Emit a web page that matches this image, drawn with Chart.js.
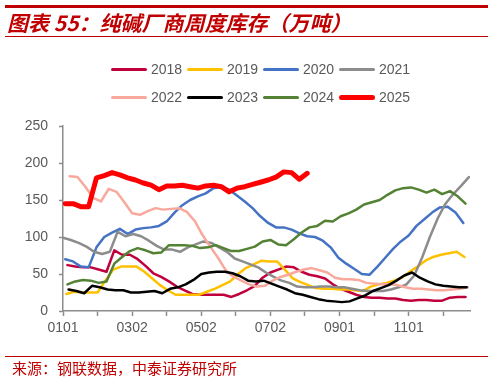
<!DOCTYPE html>
<html><head><meta charset="utf-8">
<script src="https://cdn.jsdelivr.net/npm/chart.js@4.4.1/dist/chart.umd.min.js"></script>
<style>
html,body{margin:0;padding:0;background:#fff;}
body{width:493px;height:380px;position:relative;overflow:hidden;font-family:"Liberation Sans",Arial,sans-serif;}
#c{position:absolute;left:0;top:0;}
.rule{position:absolute;left:5px;width:483px;background:#C00000;}
#title{position:absolute;left:7px;top:9px;font-style:italic;font-weight:bold;font-size:21px;font-family:"Noto Sans CJK SC",sans-serif;color:#C00000;white-space:nowrap;line-height:26px;}
#source{position:absolute;left:12px;top:358px;font-size:15px;font-family:"Noto Sans CJK SC",sans-serif;color:#C00000;white-space:nowrap;line-height:20px;}
.item{position:absolute;height:20px;display:flex;align-items:center;}
.sw{width:36px;}
.lab{margin-left:4px;font-size:14px;color:#595959;font-family:"Liberation Sans",Arial,sans-serif;}
</style></head>
<body>
<canvas id="c" width="493" height="380"></canvas>
<div class="rule" style="top:5px;height:2.5px"></div>
<div id="title">图表 55：纯碱厂商周度库存（万吨）</div>
<div class="rule" style="top:36px;height:1px"></div>
<div id="legend"></div>
<div class="rule" style="top:356px;height:1px"></div>
<div id="source">来源：钢联数据，中泰证券研究所</div>
<script>
// series names and the day-of-year of each year's first weekly reading
const years = ['2018','2019','2020','2021','2022','2023','2024','2025'];
const firstDay = [4,3,2,0,6,5,4,2];
// x tick labels (every 62 days), y ticks
const xTickLabels = ['0101','0302','0502','0702','0901','1101'];
const yTicks = [0,50,100,150,200,250];

// weekly inventory values (10k tonnes)
const v2018 = [62,60,59,59,56,53,82,76,76,70, 61,51,46,40,33,28,23,22,22,22, 22,19,23,28,34,45,52,56,60,59, 53,49,47,44,36,30,26,22,19,18, 18,17,17,15,14,15,15,14,14,18, 19,19];
const v2019 = [23,26,25,25,25,41,56,60,60,60, 53,44,35,28,22,22,22,22,26,30, 35,40,50,58,63,68,67,67,56,44, 39,35,31,30,30,29,29,28,27,33, 36,38,41,45,53,60,68,73,76,78, 80,73];
const v2020 = [70,67,60,59,86,100,106,111,104,110, 112,113,115,121,133,143,150,155,159,166, 168,164,156,148,139,128,119,113,113,110, 105,101,100,95,86,72,64,57,50,49, 60,72,84,94,102,115,124,133,140,141, 133,119];
const v2021 = [99,96,92,87,80,77,80,107,101,104, 101,95,88,83,83,80,86,90,94,92, 86,80,71,67,63,59,52,46,41,38, 33,32,32,33,33,32,32,30,28,27, 27,27,29,32,36,48,72,100,125,145, 158,169,181];
const v2022 = [182,181,168,153,148,165,161,147,132,130, 135,139,137,138,139,134,122,103,87,72, 55,46,41,36,33,34,41,46,49,53, 56,58,55,52,45,43,43,42,38,37, 36,36,35,32,30,30,29,28,28,29, 30,32];
const v2023 = [29,27,24,34,32,29,28,28,25,25, 26,27,24,30,32,36,42,50,52,53, 53,51,47,41,40,41,37,33,29,24, 22,19,16,14,13,12,13,17,21,27, 31,35,41,48,52,45,40,36,34,33, 32,32];
const v2024 = [36,40,42,41,38,40,64,73,81,85, 82,78,79,89,89,89,88,85,86,89, 85,81,81,84,87,94,96,90,89,97, 106,113,115,122,121,128,132,137,144,147, 150,157,163,166,167,164,160,164,158,162, 155,145];
const v2025 = [145,145,141,141,180,183,187,184,180,177, 173,170,164,169,169,170,168,166,169,170, 168,161,166,168,171,174,177,181,188,187, 178,186];

const seriesValues = [v2018,v2019,v2020,v2021,v2022,v2023,v2024,v2025];
const colors = ['#C0003C','#FFC000','#4472C4','#8C8C8C','#F8A99C','#000000','#548235','#FF0000'];
const lineWidths = [2.5,2.5,2.5,2.5,2.5,2.5,2.5,5];
const legendWidths = [3,3,3,3,3,3,3,5];

const tickDays = [];
for (let d = 0; d <= 341; d += 31) tickDays.push(d);

const datasets = years.map((y,k)=>({
  label: y,
  data: seriesValues[k].map((v,i)=>({x: firstDay[k] + 7*i, y: v})),
  borderColor: colors[k],
  backgroundColor: colors[k],
  borderWidth: lineWidths[k],
  pointRadius: 0,
  tension: 0,
  fill: false,
  order: years.length - 1 - k,
  borderJoinStyle: 'round',
  borderCapStyle: 'round'
}));

const axisColor = '#8C8C8C';
const tickFont = {size: 14, family: '"Liberation Sans", Arial, sans-serif'};

new Chart(document.getElementById('c'), {
  type: 'line',
  data: {datasets},
  options: {
    responsive: false,
    animation: false,
    devicePixelRatio: 1,
    layout: {padding: {left: 0, right: 23, top: 126, bottom: 0}},
    plugins: {legend: {display: false}, tooltip: {enabled: false}, title: {display: false}},
    scales: {
      x: {
        type: 'linear', min: 0, max: 365,
        afterBuildTicks(s){ s.ticks = tickDays.map(v=>({value: v})); },
        afterFit(s){ s.height = 69; },
        grid: {drawOnChartArea: false, drawTicks: true, tickLength: 5, tickColor: axisColor, tickWidth: 1.5},
        border: {color: axisColor, width: 1.5},
        ticks: {autoSkip: false, maxRotation: 0, padding: 4, color: '#595959', font: tickFont,
          callback: (v)=> (v % 62 === 0 ? xTickLabels[v/62] : '')}
      },
      y: {
        min: 0, max: 250,
        afterBuildTicks(s){ s.ticks = yTicks.map(v=>({value: v})); },
        afterFit(s){ s.width = 63; },
        grid: {drawOnChartArea: false, drawTicks: true, tickLength: 4, tickColor: axisColor, tickWidth: 1.5},
        border: {color: axisColor, width: 1.5},
        ticks: {padding: 11, color: '#595959', font: tickFont}
      }
    }
  }
});

// legend (two rows of four)
const leg = document.getElementById('legend');
years.forEach((y,k)=>{
  const row = Math.floor(k/4), col = k%4;
  const it = document.createElement('div');
  it.className = 'item';
  it.style.left = (111 + 76*col) + 'px';
  it.style.top = (59 + 28*row) + 'px';
  const sw = document.createElement('div');
  sw.className = 'sw';
  sw.style.height = legendWidths[k] + 'px';
  sw.style.background = colors[k];
  sw.style.borderRadius = (legendWidths[k]/2) + 'px';
  const lab = document.createElement('span');
  lab.className = 'lab';
  lab.textContent = y;
  it.appendChild(sw); it.appendChild(lab);
  leg.appendChild(it);
});
</script>
</body></html>
